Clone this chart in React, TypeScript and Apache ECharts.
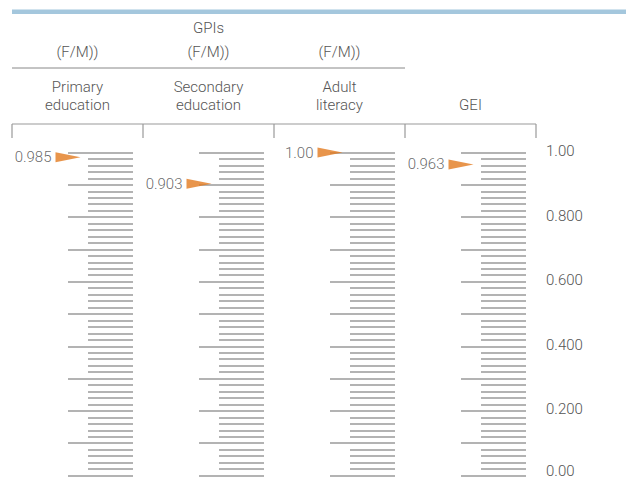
import React, { useEffect, useRef } from "react";
import * as echarts from "echarts";

const categories = ["Primary\neducation", "Secondary\neducation", "Adult\nliteracy", "GEI"];
const groupLabels = ["(F/M))", "(F/M))", "(F/M))"];
const groupTitle = "GPIs";
const values = [0.985, 0.903, 1.0, 0.963];
const valueLabels = ["0.985", "0.903", "1.00", "0.963"];
const scaleTicks = [0, 0.2, 0.4, 0.6, 0.8, 1.0];
const scaleTickLabels = ["0.00", "0.200", "0.400", "0.600", "0.800", "1.00"];

const FONT = "Roboto, 'Liberation Sans', sans-serif";
const TEXT = "#555555";
const TICK = "#9a9a9a";
const ORANGE = "#e27b1f";

export default function App() {
  const ref = useRef<HTMLDivElement>(null);
  useEffect(() => {
    if (!ref.current) return;
    const chart = echarts.init(ref.current, null, { renderer: "svg" });
    const colLeft = 12;
    const colW = 131;
    const gridLeft0 = 68;
    const gridW = 65;
    const gridTop = 152.5;
    const gridBottom = 3.5;

    const grids: any[] = [];
    const xAxes: any[] = [];
    const yAxes: any[] = [];
    const series: any[] = [];
    categories.forEach((c, i) => {
      grids.push({
        left: gridLeft0 + colW * i,
        width: gridW,
        top: gridTop,
        bottom: gridBottom,
        containLabel: false,
        outerBoundsMode: "none",
      });
      xAxes.push({ gridIndex: i, type: "value", min: 0, max: 1, show: false });
      yAxes.push({
        gridIndex: i,
        type: "value",
        position: "left",
        offset: -gridW,
        min: 0,
        max: 1,
        interval: 0.1,
        axisLine: { show: false },
        splitLine: { show: false },
        axisLabel: { show: false },
        axisTick: { show: true, inside: false, length: gridW, lineStyle: { color: TICK, width: 1.5 } },
        minorTick: { show: true, splitNumber: 5, length: 45, lineStyle: { color: TICK, width: 1.5 } },
      });
      series.push({
        type: "scatter",
        xAxisIndex: i,
        yAxisIndex: i,
        clip: false,
        symbol: "path://M0,0 L25,5 L0,10 Z",
        symbolSize: [25, 10],
        itemStyle: { color: ORANGE },
        label: {
          show: true,
          position: "left",
          distance: 4,
          color: "#444",
          fontSize: 15,
          fontWeight: 300,
          fontFamily: FONT,
          formatter: () => valueLabels[i],
        },
        data: [[0, values[i]]],
      });
    });
    // right value scale
    const richBase = { fontSize: 15, fontWeight: 300, fontFamily: FONT, color: TEXT };
    yAxes.push({
      gridIndex: 3,
      type: "value",
      position: "right",
      min: 0,
      max: 1,
      interval: 0.2,
      axisLine: { show: false },
      axisTick: { show: false },
      splitLine: { show: false },
      axisLabel: {
        margin: 20,
        color: TEXT,
        fontSize: 15,
        fontWeight: 300,
        fontFamily: FONT,
        formatter: (v: number) => {
          const idx = scaleTicks.findIndex((t) => Math.abs(t - v) < 1e-6);
          if (idx < 0) return "";
          return idx === 0 ? `{b|${scaleTickLabels[idx]}}` : `{a|${scaleTickLabels[idx]}}`;
        },
        rich: {
          a: { ...richBase, padding: [0, 0, 3, 0] },
          b: { ...richBase, padding: [0, 0, 9, 0] },
        },
      },
    });

    const graphic: any[] = [];
    graphic.push({ type: "rect", shape: { x: 12, y: 9.5, width: 614, height: 4.5 }, style: { fill: "#a4c7dd" } });
    const centers = categories.map((_, i) => colLeft + colW * i + colW / 2);
    const font = `300 15px ${FONT}`;
    graphic.push({
      type: "text",
      x: centers[1],
      y: 28,
      style: { text: groupTitle, fill: TEXT, font, align: "center", verticalAlign: "middle" },
    });
    groupLabels.forEach((g, i) => {
      graphic.push({
        type: "text",
        x: centers[i],
        y: 52,
        style: { text: g, fill: TEXT, font, align: "center", verticalAlign: "middle" },
      });
    });
    graphic.push({
      type: "line",
      shape: { x1: colLeft, y1: 68, x2: colLeft + colW * 3, y2: 68 },
      style: { stroke: "#888", lineWidth: 1 },
    });
    categories.forEach((c, i) => {
      const lines = c.split("\n");
      lines.forEach((ln, k) => {
        const y = lines.length === 2 ? 87 + 18 * k : 105;
        graphic.push({
          type: "text",
          x: centers[i],
          y,
          style: { text: ln, fill: TEXT, font, align: "center", verticalAlign: "middle" },
        });
      });
    });
    graphic.push({
      type: "line",
      shape: { x1: colLeft, y1: 124, x2: colLeft + colW * 4, y2: 124 },
      style: { stroke: "#999", lineWidth: 1.2 },
    });
    for (let i = 0; i <= 4; i++) {
      graphic.push({
        type: "line",
        shape: { x1: colLeft + colW * i, y1: 124, x2: colLeft + colW * i, y2: 138 },
        style: { stroke: "#999", lineWidth: 1.2 },
      });
    }

    chart.setOption({
      animation: false,
      grid: grids,
      xAxis: xAxes,
      yAxis: yAxes,
      series,
      graphic,
    });
    return () => chart.dispose();
  }, []);
  return (
    <div
      ref={ref}
      style={{ position: "fixed", left: 0, top: 0, width: 626, height: 479, background: "#fff" }}
    />
  );
}
